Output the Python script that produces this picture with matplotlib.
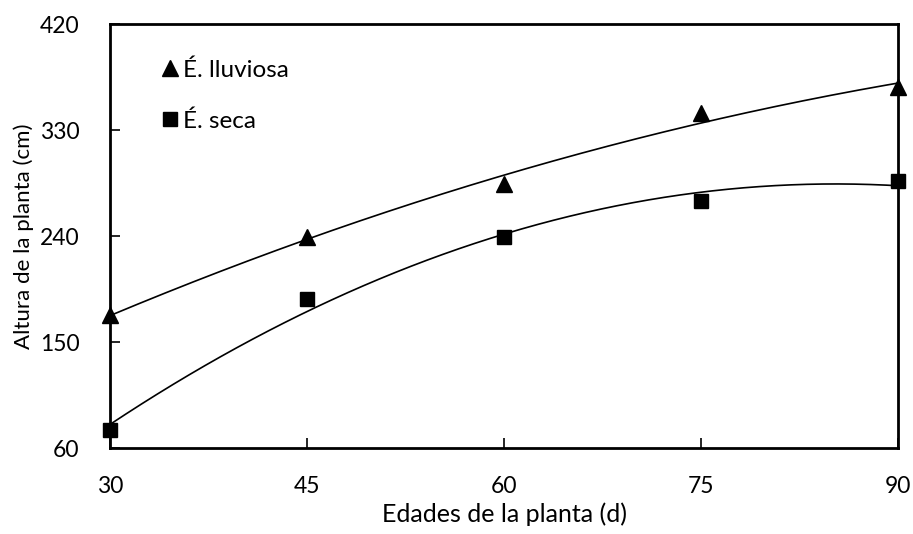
import numpy as np
import matplotlib
matplotlib.use("Agg")
import matplotlib.pyplot as plt

plt.rcParams['font.family'] = ['Lato', 'DejaVu Sans']

# plant age (days)
edades = [30, 45, 60, 75, 90]
# plant height (cm)
lluviosa = [173, 239, 284, 345, 367]
seca = [75, 187, 239, 270, 287]

y_ticks = [60, 150, 240, 330, 420]
x_ticks = [30, 45, 60, 75, 90]

fig = plt.figure(figsize=(9.13, 5.34), dpi=100)
ax = fig.add_axes([0.1205, 0.161, 0.8631, 0.7934])

# polynomial trend lines (2nd order), like the spreadsheet trendline
xs = np.linspace(min(edades), max(edades), 200)
for serie in (lluviosa, seca):
    coef = np.polyfit(edades, serie, 2)
    ax.plot(xs, np.polyval(coef, xs), color='black', lw=1.2, zorder=2)

ax.plot(edades, lluviosa, '^', color='black', ms=11, label='É. lluviosa',
        clip_on=False, zorder=3)
ax.plot(edades, seca, 's', color='black', ms=10, label='É. seca',
        clip_on=False, zorder=3)

ax.set_xlim(30, 90)
ax.set_ylim(60, 420)
ax.set_xticks(x_ticks)
ax.set_yticks(y_ticks)
ax.tick_params(direction='in', length=7, width=1.2, labelsize=16.5)
ax.tick_params(axis='x', pad=20)
ax.tick_params(axis='y', pad=22)
for sp in ax.spines.values():
    sp.set_linewidth(2)

ax.set_xlabel('Edades de la planta (d)', fontsize=18, labelpad=4)
ax.set_ylabel('Altura de la planta (cm)', fontsize=16, labelpad=4)

ax.legend(loc='upper left', frameon=False, fontsize=17.5, handlelength=0.6,
          handletextpad=0.25, labelspacing=1.2, borderaxespad=0,
          bbox_to_anchor=(0.054, 0.94))

fig.savefig('out.png', dpi=100)
